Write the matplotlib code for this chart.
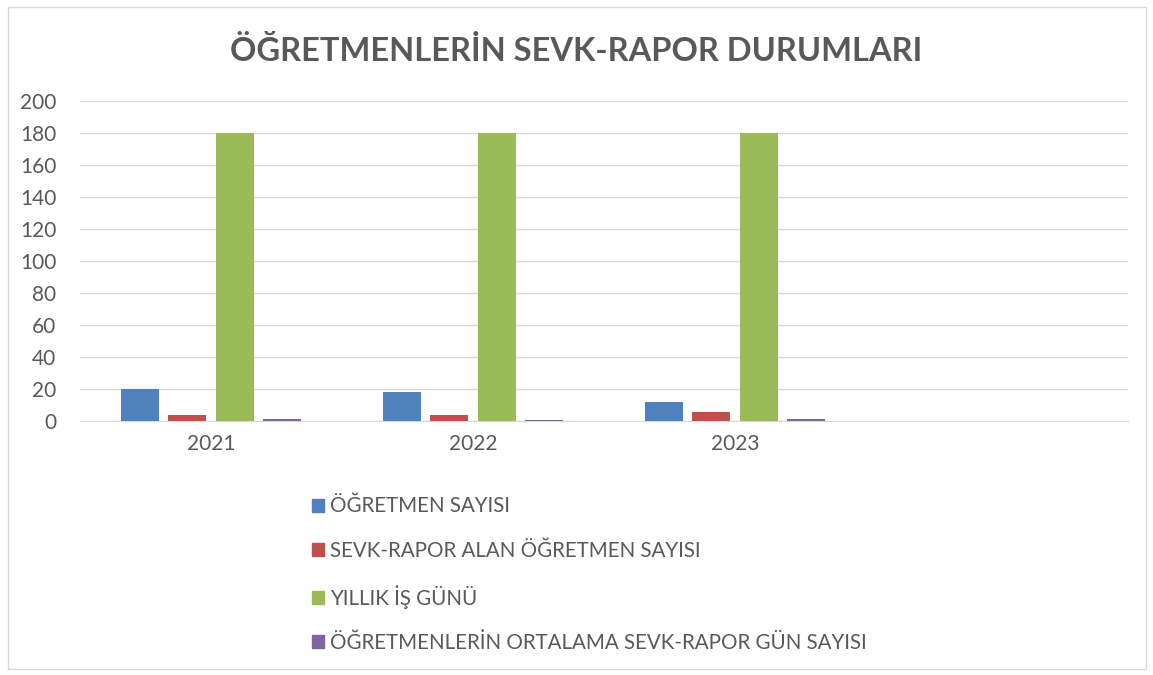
import matplotlib
matplotlib.use("Agg")
import matplotlib.pyplot as plt
import numpy as np
from matplotlib.patches import Rectangle

plt.rcParams['font.family'] = ['Lato', 'DejaVu Sans']

years = ["2021", "2022", "2023", ""]
ogretmen_sayisi = [20, 18, 12, 0]
sevk_rapor_alan = [4, 4, 6, 0]
yillik_is_gunu = [180, 180, 180, 0]
ortalama_sevk_gun = [1.5, 1, 1.5, 0]

series_names = ["ÖĞRETMEN SAYISI", "SEVK-RAPOR ALAN ÖĞRETMEN SAYISI",
                "YILLIK İŞ GÜNÜ", "ÖĞRETMENLERİN ORTALAMA SEVK-RAPOR GÜN SAYISI"]
colors = ["#4f81bd", "#c0504d", "#9bbb59", "#8064a2"]
text_color = "#595959"

fig = plt.figure(figsize=(11.53, 6.75), dpi=100)
ax = fig.add_axes([80 / 1153, 0.376, 1048 / 1153, 0.474])

x = np.arange(len(years))
slot = 0.181
width = 0.145
all_series = [ogretmen_sayisi, sevk_rapor_alan, yillik_is_gunu, ortalama_sevk_gun]
for i, (vals, c) in enumerate(zip(all_series, colors)):
    ax.bar(x + (i - 1.5) * slot, vals, width, color=c, zorder=3)

ax.set_xlim(-0.5, len(years) - 0.5)
ax.set_ylim(0, 200)
ax.set_yticks(range(0, 201, 20))
ax.set_xticks(x[:3])
ax.set_xticklabels(years[:3])
ax.grid(axis='y', color="#d9d9d9", linewidth=1, zorder=0)
for s in ["top", "right", "left"]:
    ax.spines[s].set_visible(False)
ax.spines["bottom"].set_color("#d9d9d9")
ax.tick_params(length=0, labelsize=15, colors=text_color, pad=9)
ax.tick_params(axis='y', pad=17)

fig.text(0.5, 0.925, "ÖĞRETMENLERİN SEVK-RAPOR DURUMLARI", ha="center", va="center",
         fontsize=23.5, fontweight="bold", color=text_color)

handles = [Rectangle((0, 0), 1, 1, color=c) for c in colors]
fig.legend(handles, series_names, loc="upper left",
           bbox_to_anchor=(293 / 1153, 1 - 478 / 675), frameon=False,
           fontsize=14.8, labelcolor=text_color, handlelength=0.6,
           handleheight=0.6, handletextpad=0.3, labelspacing=1.18)

fig.add_artist(Rectangle((8 / 1153, 6 / 675), 1138 / 1153, 662 / 675, fill=False,
                         edgecolor="#d9d9d9", linewidth=1, transform=fig.transFigure))

fig.savefig("out.png", dpi=100)
